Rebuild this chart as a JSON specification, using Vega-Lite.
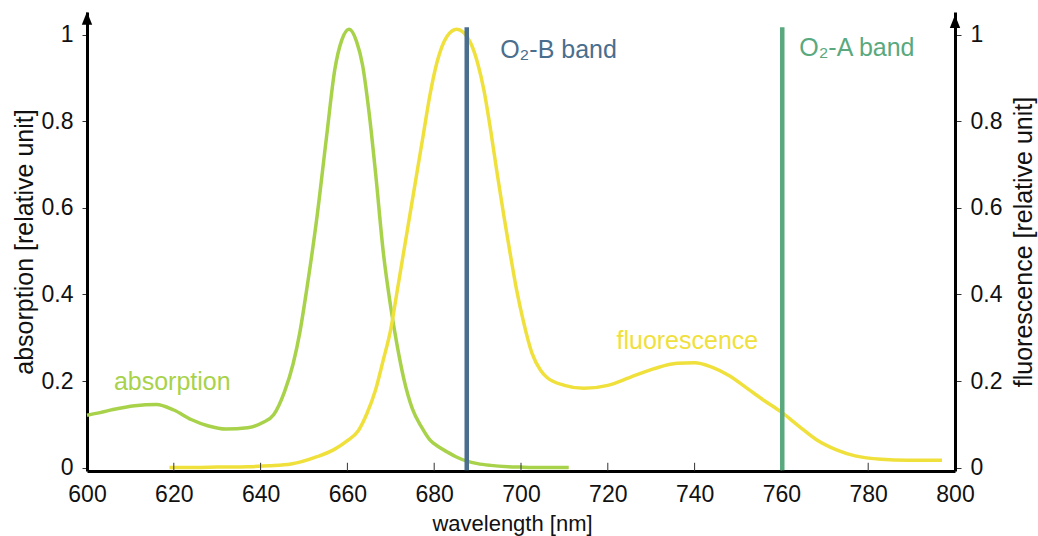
{
  "$schema": "https://vega.github.io/schema/vega-lite/v6.json",
  "width": 868,
  "height": 459,
  "autosize": "none",
  "padding": {"left": 87, "top": 12, "right": 83, "bottom": 65},
  "background": "white",
  "config": {
    "view": {"stroke": null},
    "font": "Liberation Sans",
    "axis": {
      "labelFont": "Liberation Sans",
      "titleFont": "Liberation Sans",
      "labelColor": "#111111",
      "titleColor": "#111111",
      "titleFontWeight": "normal",
      "grid": false,
      "domainColor": "#000000",
      "domainWidth": 3,
      "tickColor": "#333333",
      "tickWidth": 1
    }
  },
  "datasets": {
    "absorption": [
      {"nm": 600, "v": 0.121}, {"nm": 603, "v": 0.127}, {"nm": 606, "v": 0.134},
      {"nm": 611, "v": 0.143}, {"nm": 616, "v": 0.146}, {"nm": 620, "v": 0.133},
      {"nm": 624, "v": 0.111}, {"nm": 628, "v": 0.096}, {"nm": 632, "v": 0.089},
      {"nm": 637, "v": 0.092}, {"nm": 640.5, "v": 0.104}, {"nm": 643, "v": 0.122},
      {"nm": 645.5, "v": 0.175}, {"nm": 647.5, "v": 0.24}, {"nm": 649, "v": 0.31},
      {"nm": 650.6, "v": 0.41}, {"nm": 652.9, "v": 0.572}, {"nm": 655.2, "v": 0.765},
      {"nm": 657.1, "v": 0.92}, {"nm": 658.7, "v": 0.988}, {"nm": 660.4, "v": 1.013},
      {"nm": 662.1, "v": 0.985}, {"nm": 663.5, "v": 0.93}, {"nm": 665, "v": 0.82},
      {"nm": 666.5, "v": 0.68}, {"nm": 668.3, "v": 0.495}, {"nm": 670, "v": 0.37},
      {"nm": 671.5, "v": 0.28}, {"nm": 673, "v": 0.205}, {"nm": 675, "v": 0.135},
      {"nm": 677, "v": 0.095}, {"nm": 679, "v": 0.064}, {"nm": 681, "v": 0.048},
      {"nm": 683, "v": 0.036}, {"nm": 685, "v": 0.025}, {"nm": 687.5, "v": 0.015},
      {"nm": 690, "v": 0.009}, {"nm": 693, "v": 0.005}, {"nm": 697, "v": 0.002},
      {"nm": 700, "v": 0.001}, {"nm": 705, "v": 0.0}, {"nm": 711, "v": 0.0}
    ],
    "fluorescence": [
      {"nm": 619, "v": 0.0}, {"nm": 625, "v": 0.0}, {"nm": 630, "v": 0.001},
      {"nm": 637, "v": 0.002}, {"nm": 642, "v": 0.004}, {"nm": 647, "v": 0.008},
      {"nm": 653, "v": 0.025}, {"nm": 657, "v": 0.042}, {"nm": 660, "v": 0.062},
      {"nm": 662.5, "v": 0.085}, {"nm": 664.5, "v": 0.125}, {"nm": 666.5, "v": 0.18},
      {"nm": 668.3, "v": 0.25}, {"nm": 670, "v": 0.32}, {"nm": 671.5, "v": 0.41},
      {"nm": 674, "v": 0.56}, {"nm": 675.5, "v": 0.65}, {"nm": 677.5, "v": 0.77},
      {"nm": 679, "v": 0.86}, {"nm": 680.6, "v": 0.935}, {"nm": 682.9, "v": 0.996},
      {"nm": 685.2, "v": 1.013}, {"nm": 688.2, "v": 0.985}, {"nm": 690, "v": 0.935},
      {"nm": 691.5, "v": 0.87}, {"nm": 693, "v": 0.78}, {"nm": 694.5, "v": 0.68},
      {"nm": 696, "v": 0.585}, {"nm": 697.5, "v": 0.495}, {"nm": 699, "v": 0.41},
      {"nm": 700.5, "v": 0.34}, {"nm": 702.5, "v": 0.265}, {"nm": 704.5, "v": 0.225},
      {"nm": 706, "v": 0.208}, {"nm": 710, "v": 0.19}, {"nm": 714.5, "v": 0.183},
      {"nm": 720, "v": 0.19}, {"nm": 725, "v": 0.208}, {"nm": 730.5, "v": 0.228},
      {"nm": 736, "v": 0.241}, {"nm": 740, "v": 0.242}, {"nm": 743.5, "v": 0.234},
      {"nm": 748, "v": 0.212}, {"nm": 752.5, "v": 0.18}, {"nm": 756, "v": 0.155},
      {"nm": 760, "v": 0.128}, {"nm": 764, "v": 0.096}, {"nm": 768, "v": 0.065},
      {"nm": 772.7, "v": 0.041}, {"nm": 777, "v": 0.027}, {"nm": 783, "v": 0.019},
      {"nm": 789, "v": 0.017}, {"nm": 797, "v": 0.017}
    ],
    "bands": [
      {"series": "O₂-B band", "nm": 687.5, "lo": -0.006, "hi": 1.018},
      {"series": "O₂-A band", "nm": 760.2, "lo": -0.006, "hi": 1.018}
    ],
    "labels": [
      {"series": "absorption", "label": "absorption", "nm": 606.2, "v": 0.198},
      {"series": "fluorescence", "label": "fluorescence", "nm": 722.0, "v": 0.293},
      {"series": "O₂-B band", "label": "O₂-B band", "nm": 695.2, "v": 0.965},
      {"series": "O₂-A band", "label": "O₂-A band", "nm": 764.1, "v": 0.969}
    ],
    "xticks": [
      {"nm": 620}, {"nm": 640}, {"nm": 660}, {"nm": 680}, {"nm": 700},
      {"nm": 720}, {"nm": 740}, {"nm": 760}, {"nm": 780}
    ],
    "arrows": [
      {"nm": 600, "v": 1.0386},
      {"nm": 800, "v": 1.031}
    ]
  },
  "encoding": {
    "x": {
      "field": "nm", "type": "quantitative",
      "scale": {"domain": [600, 800], "nice": false, "zero": false},
      "axis": {
        "title": "wavelength [nm]",
        "values": [600, 620, 640, 660, 680, 700, 720, 740, 760, 780, 800],
        "ticks": false,
        "labelPadding": 12,
        "labelFontSize": 23,
        "titleFontSize": 22,
        "titlePadding": 7,
        "titleX": 425,
        "labelFlush": false,
        "labelOverlap": false
      }
    }
  },
  "resolve": {"axis": {"y": "independent"}},
  "layer": [
    {
      "data": {"name": "absorption"},
      "mark": {"type": "line", "color": "#a8d24a", "strokeWidth": 3.5, "interpolate": "monotone"},
      "encoding": {
        "y": {
          "field": "v", "type": "quantitative",
          "scale": {"domain": [-0.008, 1.053], "nice": false, "zero": false},
          "axis": {
            "orient": "left",
            "title": "absorption [relative unit]",
            "values": [0, 0.2, 0.4, 0.6, 0.8, 1],
            "format": "~g",
            "tickSize": 5,
            "labelPadding": 9,
            "labelFontSize": 23,
            "titleFontSize": 25,
            "titlePadding": 4,
            "labelFlush": false,
            "labelOverlap": false
          }
        }
      }
    },
    {
      "data": {"name": "fluorescence"},
      "mark": {"type": "line", "color": "#f0e03c", "strokeWidth": 3.5, "interpolate": "monotone"},
      "encoding": {
        "y": {
          "field": "v", "type": "quantitative",
          "axis": {
            "orient": "right",
            "title": "fluorescence [relative unit]",
            "values": [0, 0.2, 0.4, 0.6, 0.8, 1],
            "format": "~g",
            "tickSize": 6,
            "labelPadding": 9,
            "labelFontSize": 23,
            "titleFontSize": 25,
            "titleAngle": 270,
            "titleBaseline": "top",
            "titlePadding": 10,
            "labelFlush": false,
            "labelOverlap": false
          }
        }
      }
    },
    {
      "data": {"name": "xticks"},
      "mark": {"type": "rule", "color": "#333333", "strokeWidth": 1},
      "encoding": {
        "y": {"datum": -0.008, "type": "quantitative", "axis": null},
        "y2": {"datum": 0.011}
      }
    },
    {
      "data": {"name": "bands"},
      "mark": {"type": "rule", "strokeWidth": 4.5},
      "encoding": {
        "y": {"field": "lo", "type": "quantitative", "axis": null},
        "y2": {"field": "hi"},
        "color": {
          "field": "series", "type": "nominal", "legend": null,
          "scale": {
            "domain": ["absorption", "fluorescence", "O₂-B band", "O₂-A band"],
            "range": ["#a8d24a", "#f0e03c", "#4a6e8e", "#5aa97e"]
          }
        }
      }
    },
    {
      "data": {"name": "labels"},
      "mark": {"type": "text", "align": "left", "baseline": "middle", "fontSize": 25, "font": "Liberation Sans"},
      "encoding": {
        "y": {"field": "v", "type": "quantitative", "axis": null},
        "text": {"field": "label"},
        "color": {
          "field": "series", "type": "nominal", "legend": null,
          "scale": {
            "domain": ["absorption", "fluorescence", "O₂-B band", "O₂-A band"],
            "range": ["#a8d24a", "#f0e03c", "#4a6e8e", "#5aa97e"]
          }
        }
      }
    },
    {
      "data": {"name": "arrows"},
      "mark": {"type": "point", "filled": true, "opacity": 1, "color": "#000000", "size": 169, "shape": "M0,-1L0.8,1L-0.8,1Z"},
      "encoding": {
        "y": {"field": "v", "type": "quantitative", "axis": null}
      }
    }
  ]
}
